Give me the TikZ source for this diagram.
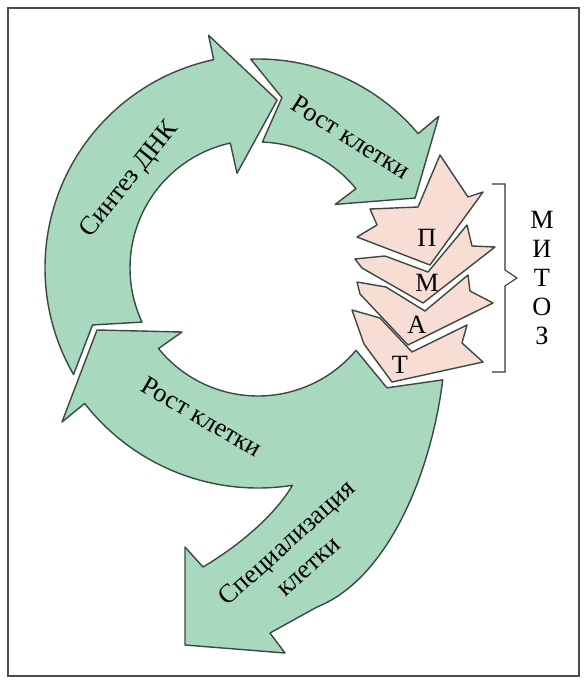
\documentclass[tikz,border=0pt]{standalone}
\usepackage{fontspec}
\setmainfont{Liberation Serif}
\usetikzlibrary{calc}
\definecolor{cycgreen}{RGB}{168,216,190}
\definecolor{mitpink}{RGB}{247,221,211}
\definecolor{edgegray}{RGB}{60,72,66}
\begin{document}
\begin{tikzpicture}[x=0.02cm, y=-0.02cm,
  phase/.style={fill=cycgreen, draw=edgegray, line width=0.8pt, line join=round},
  chev/.style={fill=mitpink, draw=edgegray, line width=0.8pt, line join=round},
  lbl/.style={font=\fontsize{15}{18}\selectfont, inner sep=0pt}]
  \useasboundingbox (0,0) rectangle (587,683);
  \draw[black!70, line width=0.6pt] (8,8) rectangle (579,676);
  \coordinate (C) at (258,268);

  % Synthesis arrow
  \draw[phase] ($(C)+(150:213)$) arc[start angle=150, end angle=258, radius=213]
    -- ($(C)+(258:238)$) -- ($(C)+(276.5:169)$) -- ($(C)+(257.5:97)$)
    -- ($(C)+(257.5:128)$) arc[start angle=257.5, end angle=155, radius=128]
    -- ($(C)+(161:175)$) -- cycle;

  % growth, top
  \draw[phase] ($(C)+(268:209)$) arc[start angle=268, end angle=320, radius=209]
    -- ($(C)+(320:236)$) -- ($(C)+(336:172)$) -- ($(C)+(320.5:100)$)
    -- ($(C)+(321:126)$) arc[start angle=321, end angle=272, radius=126]
    -- ($(C)+(278:172)$) -- cycle;

  % growth, bottom, and specialisation
  \draw[phase] (97,330) -- (182,332) -- ($(C)+(141:128)$)
    arc[start angle=141, end angle=40, radius=128]
    -- ($(C)+(42.9:176)$) -- ($(C)+(31.2:216)$)
    .. controls (430,480) and (385,580) .. (317,607)
    -- (270,633) -- (285,653) -- (185,645) -- (185,547) -- (203,567)
    .. controls (240,545) and (275,515) .. ($(C)+(81:220)$)
    arc[start angle=81, end angle=142, radius=220]
    -- (62,422) -- cycle;

  % mitosis
  \draw[chev] (357,237) -- (377,225) -- (370,209) -- (418,207) -- (440,155)
    -- (468,197) -- (483,192) -- (430,265) -- cycle;
  \draw[chev] (355,259) -- (385,256) -- (428,272) -- (467,225) -- (472,246)
    -- (495,247) -- (423,303) -- (362,268) -- cycle;
  \draw[chev] (357,282) -- (386,287) -- (425,311) -- (468,275) -- (470,291)
    -- (493,303) -- (408,345) -- (360,294) -- cycle;
  \draw[chev] (352,310) -- (380,318) -- (412,352) -- (467,325) -- (462,343)
    -- (483,362) -- (392,382) -- (364,344) -- cycle;

  % bracket
  \draw[black!80, line width=0.6pt] (492,184) -- (505,184) -- (505,270)
    -- (517,278) -- (505,286) -- (505,372) -- (492,372);

  \node[lbl, rotate=51] (N1) at (130,180) {Синтез ДНК};
  \node[lbl, rotate=-32] (N2) at (351,137) {Рост клетки};
  \node[lbl, rotate=-30] (N3) at (202,417) {Рост клетки};
  \node[lbl, rotate=42, align=center] (N4) at (297,554) {Специализация\\клетки};
  \node[lbl] (P1) at (427,238) {П};
  \node[lbl] (P2) at (427,283) {М};
  \node[lbl] (P3) at (417,325) {А};
  \node[lbl] (P4) at (400,365) {Т};
  \node[lbl, align=center, font=\fontsize{15}{16.5}\selectfont] (M1) at (542,278) {М\\И\\Т\\О\\З};
\end{tikzpicture}
\end{document}
